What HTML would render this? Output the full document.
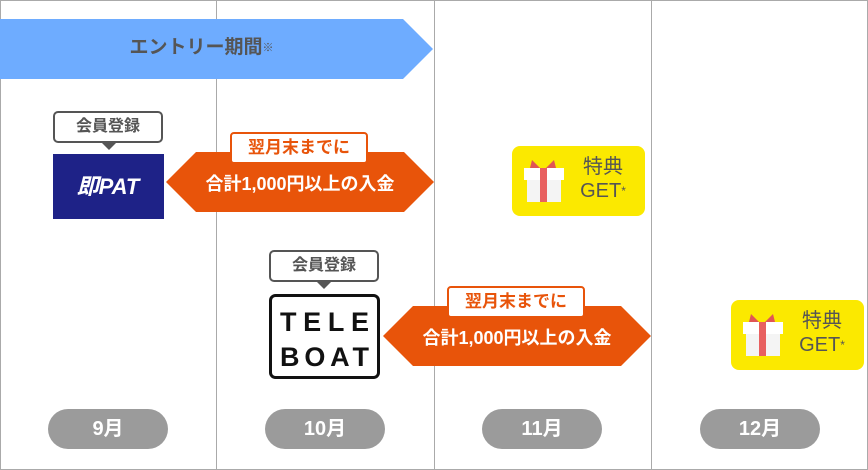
<!DOCTYPE html>
<html><head><meta charset="utf-8"><style>
body{margin:0;width:868px;height:470px;overflow:hidden;background:#fff;font-family:"Liberation Sans","Noto Sans CJK JP",sans-serif}
.a{position:absolute}
.pill{position:absolute;top:409px;width:120px;height:40px;border-radius:20px;background:#9b9b9b;color:#fff;font-weight:bold;font-size:20px;line-height:40px;text-align:center}
.bub{position:absolute;width:106px;height:28px;border:2.5px solid #555;border-radius:5px;background:#fff;color:#555;font-weight:bold;font-size:16px;line-height:28px;text-align:center}
.lbl{position:absolute;width:134px;height:28px;border:2px solid #e8540a;border-radius:4px;background:#fff;color:#e8540a;font-weight:bold;font-size:17px;line-height:28px;text-align:center}
.hex{position:absolute;color:#fff;font-weight:bold;font-size:18px;text-align:center;line-height:60px;height:60px}
.gift{position:absolute;width:133px;height:70px;background:#fbe900;border-radius:8px}
.gift .t{position:absolute;left:58px;top:9px;color:#555;font-size:20px;line-height:24px;text-align:center;width:66px}
</style></head><body>
<svg class="a" style="left:0;top:0" width="868" height="470">
<rect x="0.5" y="0.5" width="867" height="469" fill="none" stroke="#aaa"/>
<line x1="216.5" y1="0" x2="216.5" y2="470" stroke="#aaa"/>
<line x1="434.5" y1="0" x2="434.5" y2="470" stroke="#aaa"/>
<line x1="651.5" y1="0" x2="651.5" y2="470" stroke="#aaa"/>
<polygon points="0,19 403,19 433,49 403,79 0,79" fill="#6eacff"/>
<polygon points="196,152 404,152 434,182 404,212 196,212 166,182" fill="#e8540a"/>
<polygon points="413,306 621,306 651,336 621,366 413,366 383,336" fill="#e8540a"/>
<polygon points="101,142 109,150 117,142" fill="#555"/>
<polygon points="316,281 324,289 332,281" fill="#555"/>
<rect x="53" y="154" width="111" height="65" fill="#1e2287"/>
<text x="108" y="194" fill="#fff" font-size="22" font-weight="bold" font-style="italic" text-anchor="middle" font-family="Liberation Sans,Noto Sans CJK JP,sans-serif">即PAT</text>
<rect x="270.5" y="295.5" width="108" height="82" rx="5" fill="#fff" stroke="#111" stroke-width="3"/>
<text x="280" y="331" font-size="27" font-weight="bold" textLength="89" lengthAdjust="spacing" fill="#111" font-family="Liberation Sans,sans-serif">TELE</text>
<text x="280" y="366" font-size="27" font-weight="bold" textLength="89" lengthAdjust="spacing" fill="#111" font-family="Liberation Sans,sans-serif">BOAT</text>
</svg>
<div class="a" style="left:0;top:35px;width:403px;text-align:center;color:#555;font-weight:bold;font-size:19px;line-height:26px">エントリー期間<span style="font-size:11px;vertical-align:top">※</span></div>
<div class="bub" style="left:53px;top:111px">会員登録</div>
<div class="bub" style="left:269px;top:250px">会員登録</div>
<div class="lbl" style="left:230px;top:132px">翌月末までに</div>
<div class="lbl" style="left:447px;top:286px">翌月末までに</div>
<div class="hex" style="left:166px;top:154px;width:268px">合計1,000円以上の入金</div>
<div class="hex" style="left:383px;top:308px;width:268px">合計1,000円以上の入金</div>
<div class="gift" style="left:512px;top:146px"><svg class="a" style="left:10px;top:12px" width="44" height="46"><path d="M18 10 L10 2 L8 10Z M24 10 L32 2 L34 10Z" fill="#e05555"/><rect x="2" y="10" width="40" height="12" fill="#fff"/><rect x="5" y="22" width="34" height="22" fill="#f4f4f4"/><rect x="18" y="10" width="7" height="34" fill="#e86060"/></svg><div class="t">特典<br>GET<span style="font-size:12px;vertical-align:top">*</span></div></div>
<div class="gift" style="left:731px;top:300px"><svg class="a" style="left:10px;top:12px" width="44" height="46"><path d="M18 10 L10 2 L8 10Z M24 10 L32 2 L34 10Z" fill="#e05555"/><rect x="2" y="10" width="40" height="12" fill="#fff"/><rect x="5" y="22" width="34" height="22" fill="#f4f4f4"/><rect x="18" y="10" width="7" height="34" fill="#e86060"/></svg><div class="t">特典<br>GET<span style="font-size:12px;vertical-align:top">*</span></div></div>
<div class="pill" style="left:48px">9月</div>
<div class="pill" style="left:265px">10月</div>
<div class="pill" style="left:482px">11月</div>
<div class="pill" style="left:700px">12月</div>
</body></html>
